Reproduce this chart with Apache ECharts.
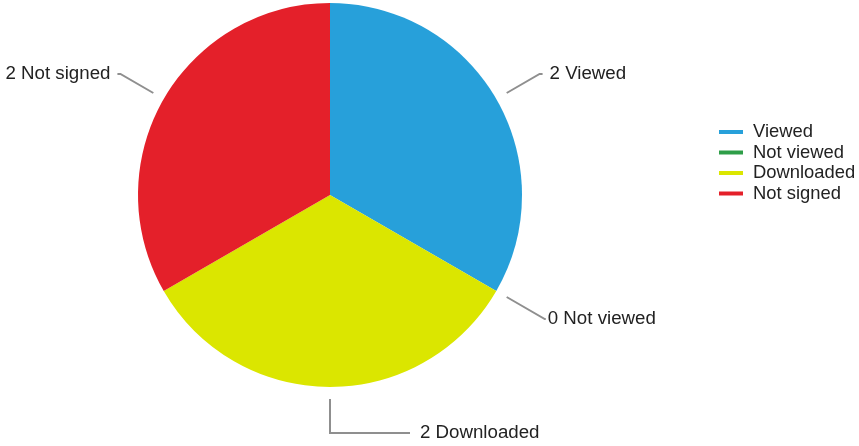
<!DOCTYPE html>
<html>
<head>
<meta charset="utf-8">
<script src="https://cdn.jsdelivr.net/npm/echarts@6/dist/echarts.min.js"></script>
<style>
html,body{margin:0;padding:0;background:#fff;}
#chart{width:859px;height:446px;}
</style>
</head>
<body>
<div id="chart"></div>
<script>
const categories = ['Viewed', 'Not viewed', 'Downloaded', 'Not signed'];
const values = [2, 0, 2, 2];
const colors = ['#27a0da', '#2e9e48', '#dbe600', '#e4202a'];
const lineLen1 = [38, 44, 34, 38];
const lineLen2 = [3, 1, 80, 3];
const labelGap = [7, 2, 10, 7];

const chart = echarts.init(document.getElementById('chart'), null, {renderer: 'canvas'});
const FONT = 'Liberation Sans, Arial, sans-serif';

const pieData = categories.map((c, i) => ({
  name: c, value: values[i], itemStyle: {color: colors[i]}
}));
const labelData = categories.map((c, i) => ({
  name: c, value: values[i],
  label: {distanceToLabelLine: labelGap[i]},
  labelLine: {length: lineLen1[i], length2: lineLen2[i]}
}));

chart.setOption({
  animation: false,
  backgroundColor: '#ffffff',
  legend: {
    orient: 'vertical',
    left: 714,
    top: 117,
    itemWidth: 24,
    itemHeight: 4,
    itemGap: 0.5,
    icon: 'rect',
    selectedMode: false,
    data: categories.map((c, i) => ({name: c, itemStyle: {color: colors[i]}})),
    textStyle: {fontFamily: FONT, fontSize: 18.4, color: '#222', lineHeight: 20, padding: [0, 0, 0, 5]}
  },
  series: [
    {
      type: 'pie',
      center: [330, 195],
      radius: [0, 192],
      startAngle: 90,
      clockwise: true,
      silent: true,
      label: {show: false},
      labelLine: {show: false},
      itemStyle: {borderWidth: 0},
      emphasis: {disabled: true},
      data: pieData
    },
    {
      type: 'pie',
      center: [330, 195],
      radius: [0, 204],
      startAngle: 90,
      clockwise: true,
      silent: true,
      legendHoverLink: false,
      avoidLabelOverlap: false,
      itemStyle: {color: 'rgba(0,0,0,0)'},
      emphasis: {disabled: true},
      label: {
        show: true,
        position: 'outer',
        overflow: 'none',
        formatter: p => p.value + ' ' + p.name,
        fontFamily: FONT,
        fontSize: 18.7,
        color: '#222'
      },
      labelLine: {show: true, lineStyle: {color: '#8f8f8f', width: 2}},
      data: labelData
    }
  ]
});
</script>
</body>
</html>
